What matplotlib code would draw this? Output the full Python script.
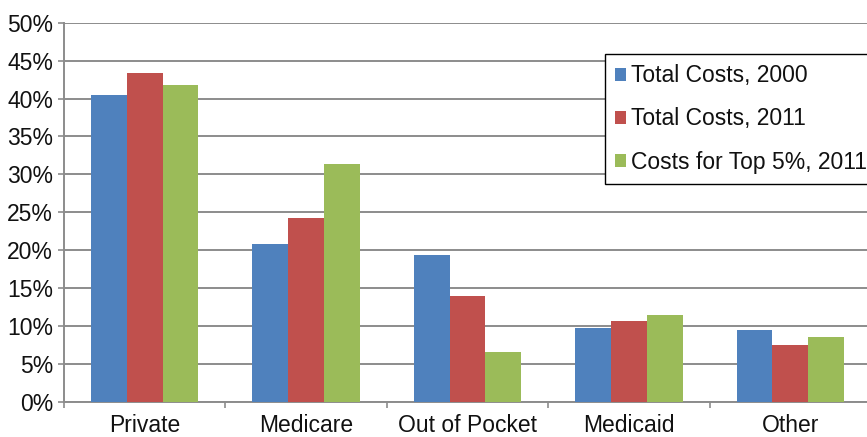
import matplotlib
matplotlib.use("Agg")
import matplotlib.pyplot as plt
import numpy as np
from matplotlib.ticker import FuncFormatter, FixedLocator

categories = ["Private", "Medicare", "Out of Pocket", "Medicaid", "Other"]
series_names = ["Total Costs, 2000", "Total Costs, 2011", "Costs for Top 5%, 2011"]
total_2000 = [40.5, 20.8, 19.4, 9.7, 9.4]
total_2011 = [43.4, 24.3, 13.9, 10.7, 7.5]
top5_2011 = [41.8, 31.4, 6.6, 11.5, 8.5]
colors = ["#4F81BD", "#C0504D", "#9BBB59"]

plt.rcParams['font.family'] = ['Liberation Sans', 'DejaVu Sans']
FS = 16.5

fig = plt.figure(figsize=(8.67, 4.37), dpi=100)
ax = fig.add_axes([64/867, 35.3/437, 807/867, 379/437])

x = np.arange(len(categories))
w = 0.222
for i, (vals, name, c) in enumerate(zip([total_2000, total_2011, top5_2011], series_names, colors)):
    ax.bar(x + (i - 1) * w, vals, width=w, color=c, label=name, zorder=3,
           edgecolor='none')

ax.set_xlim(-0.5, len(categories) - 0.5)
ax.set_ylim(0, 50)
ax.set_yticks(np.arange(0, 51, 5))
ax.yaxis.set_major_formatter(FuncFormatter(lambda v, p: f"{int(v)}%"))
ax.yaxis.grid(True, color="#8c8c8c", linewidth=1.4, zorder=0)
ax.set_axisbelow(True)

ax.xaxis.set_major_locator(FixedLocator(np.arange(-0.5, len(categories), 1.0)))
ax.xaxis.set_minor_locator(FixedLocator(x))
ax.set_xticklabels([""] * len(np.arange(-0.5, len(categories), 1.0)))
ax.set_xticklabels(categories, minor=True)
ax.tick_params(axis='x', which='major', length=4, width=1.2, color="#8c8c8c", direction='out')
ax.tick_params(axis='x', which='minor', length=0, pad=9, labelsize=FS, labelcolor="#111111")
ax.tick_params(axis='y', length=4.3, width=1.2, color="#8c8c8c", direction='out',
               labelsize=FS, labelcolor="#111111", pad=3.6)

for s in ["top", "right"]:
    ax.spines[s].set_visible(False)
for s in ["left", "bottom"]:
    ax.spines[s].set_color("#8c8c8c")
    ax.spines[s].set_linewidth(1.4)

leg = fig.legend(loc='upper left', bbox_to_anchor=(605/867, 1 - 54/437),
                 fontsize=FS, frameon=True, fancybox=False, framealpha=1,
                 edgecolor='#000000', handlelength=0.48, handleheight=0.48,
                 handletextpad=0.2, labelspacing=0.88, borderpad=0.45,
                 borderaxespad=0)
leg.get_frame().set_linewidth(1.0)
for t in leg.get_texts():
    t.set_color("#111111")

fig.savefig("out.png", dpi=100)
